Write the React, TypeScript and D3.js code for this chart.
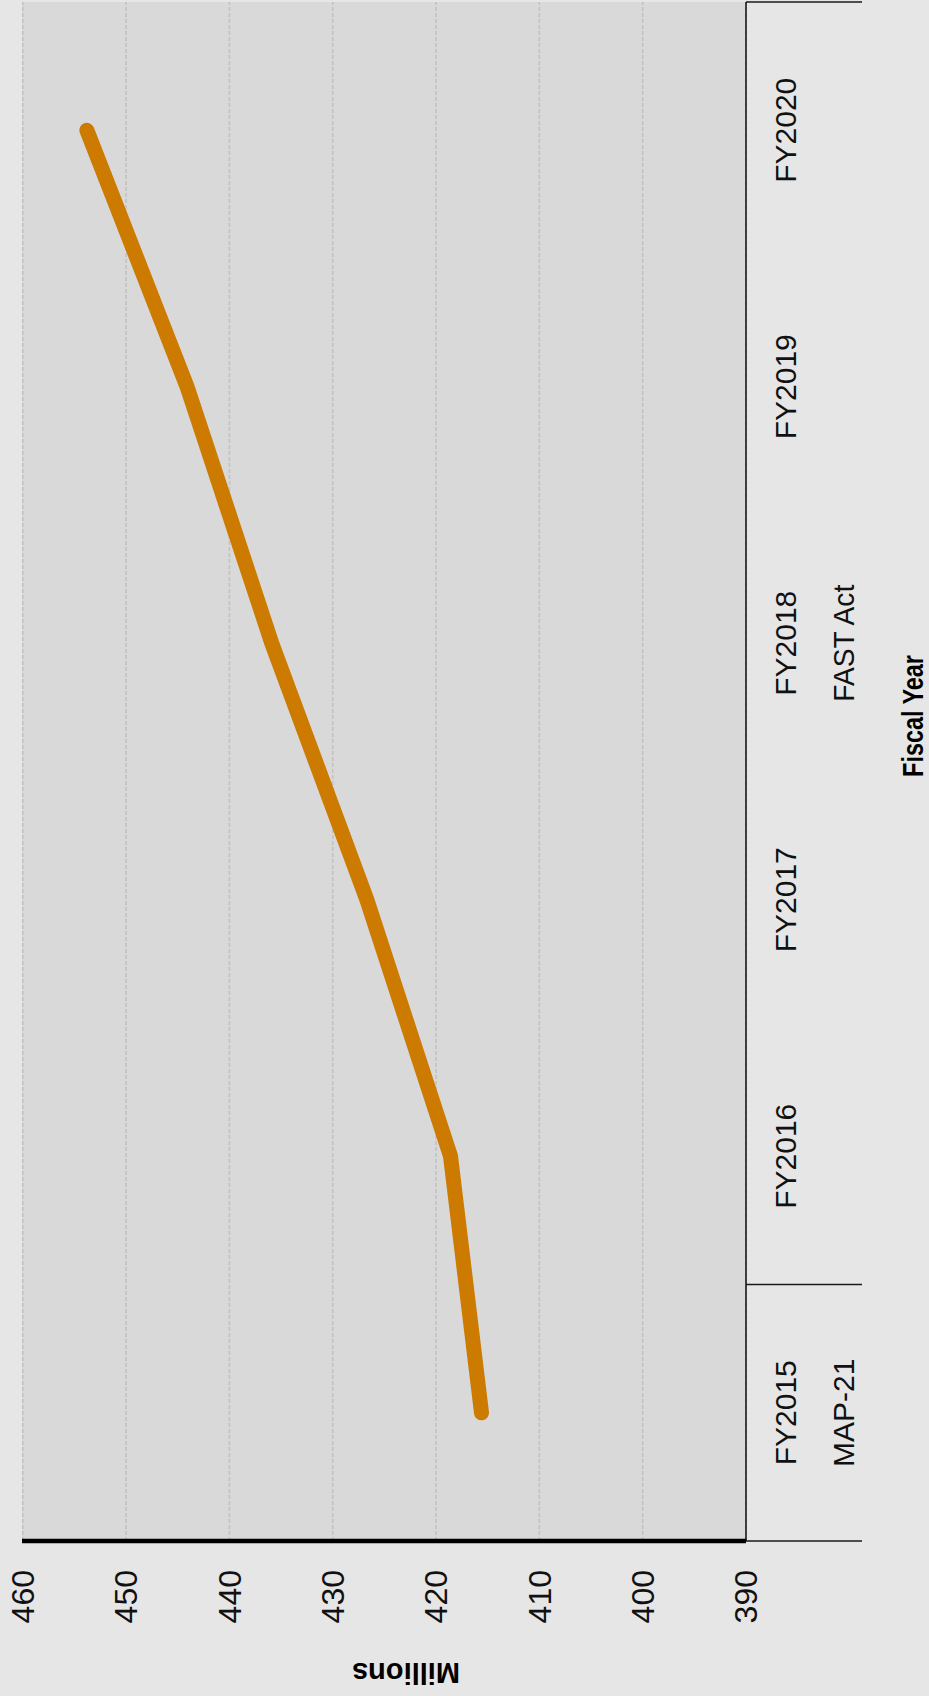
import React from "react";
import * as d3 from "d3";

// Fiscal years and the matching totals, in millions
const fiscalYears = ["FY2015", "FY2016", "FY2017", "FY2018", "FY2019", "FY2020"];
const millions = [415.6, 418.6, 426.7, 435.9, 444.1, 453.8];
const valueTicks = [390, 400, 410, 420, 430, 440, 450, 460];

// Authorization acts and how many fiscal years each covers
const actLabels = ["MAP-21", "FAST Act"];
const actYearCounts = [1, 5];

const W = 929;
const H = 1696;

// The chart is laid out as an ordinary line chart (width = H, height = W)
// and then turned a quarter turn counter-clockwise onto the page.
const inner = { left: 155, right: 1694, top: 22, bottom: 746 };

const FONT = "'Liberation Sans', Arial, sans-serif";

export default function App() {
  const x = d3
    .scaleBand<string>()
    .domain(fiscalYears)
    .range([inner.left, inner.right])
    .paddingInner(0)
    .paddingOuter(0);

  const y = d3.scaleLinear().domain([390, 460]).range([inner.bottom, inner.top + 0.8]);

  const pts = fiscalYears.map((f, i) => [x(f)! + x.bandwidth() / 2, y(millions[i])] as [number, number]);
  const linePath = d3.line()(pts) || "";

  // act group boundaries along the category axis
  const bounds: number[] = [inner.left];
  let acc = 0;
  actYearCounts.forEach((n) => {
    acc += n;
    bounds.push(inner.left + acc * x.bandwidth());
  });

  return (
    <svg
      width={W}
      height={H}
      style={{ position: "absolute", top: 0, left: 0, display: "block" }}
      xmlns="http://www.w3.org/2000/svg"
    >
      <rect x={0} y={0} width={W} height={H} fill="#e6e6e6" />
      <g transform={`translate(0,${H}) rotate(-90)`}>
        <rect
          x={inner.left}
          y={inner.top}
          width={inner.right - inner.left}
          height={inner.bottom - inner.top}
          fill="#d9d9d9"
        />
        {valueTicks.map((v) => (
          <line
            key={"g" + v}
            x1={inner.left}
            x2={inner.right}
            y1={y(v)}
            y2={y(v)}
            stroke="#c2c2c2"
            strokeWidth={1.6}
            strokeDasharray="4,2"
          />
        ))}

        <path
          d={linePath}
          fill="none"
          stroke="#cc7a00"
          strokeWidth={15}
          strokeLinecap="round"
          strokeLinejoin="miter"
        />

        {/* category axis line */}
        <line x1={inner.left} x2={inner.right} y1={inner.bottom} y2={inner.bottom} stroke="#1a1a1a" strokeWidth={1.6} />
        {/* value axis line */}
        <line x1={inner.left} x2={inner.left} y1={inner.top} y2={inner.bottom} stroke="#000" strokeWidth={4.5} />

        {/* act group separators */}
        {bounds.map((b, i) => (
          <g key={"s" + i}>
            <line x1={b} x2={b} y1={inner.bottom} y2={804} stroke="#1a1a1a" strokeWidth={1.5} />
            <line x1={b} x2={b} y1={804} y2={862} stroke="#1a1a1a" strokeWidth={1.5} />
          </g>
        ))}

        {/* value tick labels */}
        {valueTicks.map((v) => (
          <text
            key={"t" + v}
            x={126}
            y={y(v)}
            dy="0.35em"
            textAnchor="end"
            fontFamily={FONT}
            fontSize={32}
            fill="#111"
          >
            {v}
          </text>
        ))}

        {/* fiscal year labels */}
        {fiscalYears.map((f) => (
          <text
            key={"c" + f}
            x={x(f)! + x.bandwidth() / 2}
            y={796}
            textAnchor="middle"
            fontFamily={FONT}
            fontSize={30}
            fill="#111"
          >
            {f}
          </text>
        ))}

        {/* act labels */}
        {actLabels.map((a, i) => (
          <text
            key={"a" + a}
            transform={`translate(${(bounds[i] + bounds[i + 1]) / 2},854) scale(${i === 0 ? 1 : 0.94},1)`}
            textAnchor="middle"
            fontFamily={FONT}
            fontSize={30}
            fill="#111"
          >
            {a}
          </text>
        ))}

        <text
          transform="translate(980,923) scale(0.78,1)"
          textAnchor="middle"
          fontFamily={FONT}
          fontSize={30}
          fontWeight="bold"
          fill="#000"
        >
          Fiscal Year
        </text>
        <text
          transform={`translate(33,406) rotate(-90)`}
          textAnchor="middle"
          fontFamily={FONT}
          fontSize={29}
          fontWeight="bold"
          fill="#000"
        >
          Millions
        </text>
      </g>
    </svg>
  );
}
